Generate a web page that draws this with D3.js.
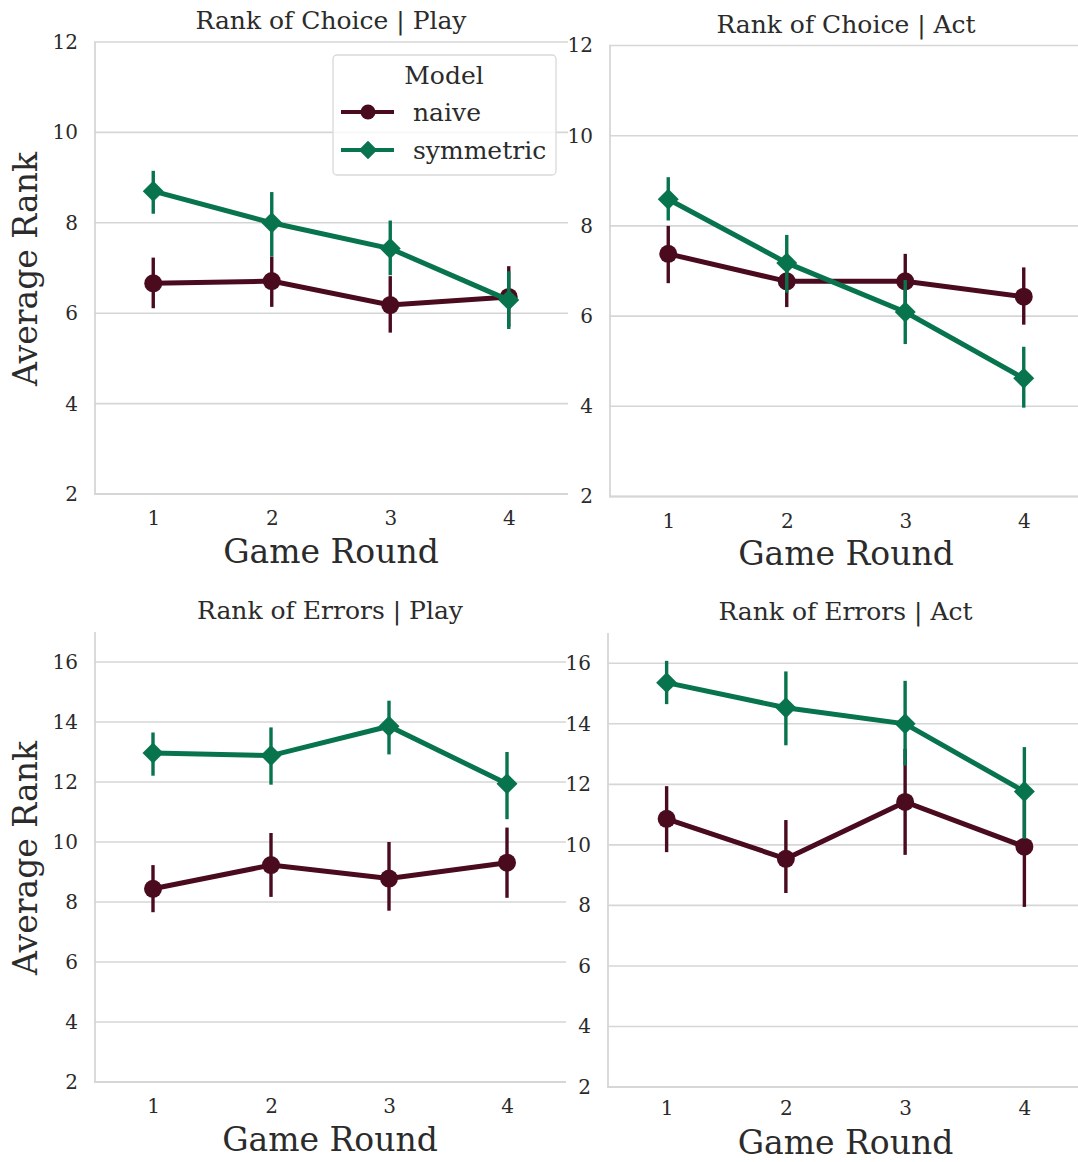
<!DOCTYPE html>
<html>
<head>
<meta charset="utf-8">
<script src="https://cdn.jsdelivr.net/npm/d3@7"></script>
<style>
  body { margin: 0; background: #fff; }
  svg { display: block; font-family: "DejaVu Serif", serif; }
</style>
</head>
<body>
<svg id="chart" width="1078" height="1162"></svg>
<script>
// categories
var rounds = [1, 2, 3, 4];
var models = ["naive", "symmetric"];
var panelTitles = ["Rank of Choice | Play", "Rank of Choice | Act", "Rank of Errors | Play", "Rank of Errors | Act"];
var topTicks = [2, 4, 6, 8, 10, 12];
var bottomTicks = [2, 4, 6, 8, 10, 12, 14, 16];

// Rank of Choice | Play
var choicePlayNaive = [6.66, 6.71, 6.18, 6.36];
var choicePlayNaiveLo = [6.11, 6.14, 5.57, 5.70];
var choicePlayNaiveHi = [7.23, 7.25, 6.82, 7.04];
var choicePlaySym = [8.70, 8.00, 7.43, 6.29];
var choicePlaySymLo = [8.20, 7.25, 6.84, 5.65];
var choicePlaySymHi = [9.15, 8.68, 8.05, 6.93];

// Rank of Choice | Act
var choiceActNaive = [7.38, 6.77, 6.77, 6.43];
var choiceActNaiveLo = [6.73, 6.20, 6.16, 5.81];
var choiceActNaiveHi = [8.00, 7.34, 7.38, 7.08];
var choiceActSym = [8.59, 7.18, 6.09, 4.62];
var choiceActSymLo = [8.12, 6.52, 5.38, 3.97];
var choiceActSymHi = [9.08, 7.80, 6.80, 5.32];

// Rank of Errors | Play
var errorsPlayNaive = [8.44, 9.23, 8.78, 9.31];
var errorsPlayNaiveLo = [7.66, 8.17, 7.71, 8.14];
var errorsPlayNaiveHi = [9.23, 10.30, 10.00, 10.48];
var errorsPlaySym = [12.97, 12.88, 13.86, 11.94];
var errorsPlaySymLo = [12.21, 11.91, 12.92, 10.76];
var errorsPlaySymHi = [13.65, 13.82, 14.71, 13.00];

// Rank of Errors | Act
var errorsActNaive = [10.86, 9.54, 11.42, 9.94];
var errorsActNaiveLo = [9.76, 8.41, 9.67, 7.95];
var errorsActNaiveHi = [11.94, 10.82, 13.17, 11.93];
var errorsActSym = [15.36, 14.53, 14.00, 11.76];
var errorsActSymLo = [14.65, 13.29, 12.62, 10.20];
var errorsActSymHi = [16.08, 15.73, 15.42, 13.23];

var colors = { naive: "#4a0b1f", symmetric: "#07744d" };
var gridColor = "#d6d6d6";
var textColor = "#2b2b2b";

var svg = d3.select("#chart");

// panel boxes
var panels = [
  { left: 94, right: 568, top: 42, bottom: 494, ylim: [2, 12], ticks: topTicks, gridRight: 568, ylabel: true, tickGap: 24,
    series: [[choicePlayNaive, choicePlayNaiveLo, choicePlayNaiveHi], [choicePlaySym, choicePlaySymLo, choicePlaySymHi]] },
  { left: 609, right: 1083, top: 45.5, bottom: 496.5, ylim: [2, 12], ticks: topTicks, gridRight: 1078, ylabel: false, tickGap: 24,
    series: [[choiceActNaive, choiceActNaiveLo, choiceActNaiveHi], [choiceActSym, choiceActSymLo, choiceActSymHi]] },
  { left: 94, right: 566, top: 632, bottom: 1082, ylim: [2, 17], ticks: bottomTicks, gridRight: 566, ylabel: true, tickGap: 24,
    series: [[errorsPlayNaive, errorsPlayNaiveLo, errorsPlayNaiveHi], [errorsPlaySym, errorsPlaySymLo, errorsPlaySymHi]] },
  { left: 607, right: 1084, top: 633, bottom: 1087, ylim: [2, 17], ticks: bottomTicks, gridRight: 1078, ylabel: false, tickGap: 21,
    series: [[errorsActNaive, errorsActNaiveLo, errorsActNaiveHi], [errorsActSym, errorsActSymLo, errorsActSymHi]] }
];

var diamond = d3.symbol().type(d3.symbolDiamond2).size(280);

panels.forEach(function(p, pi) {
  var g = svg.append("g");

  var x = d3.scalePoint().domain(rounds).range([p.left, p.right]).padding(0.5);
  var y = d3.scaleLinear().domain(p.ylim).range([p.bottom, p.top]);

  // grid
  g.selectAll(".grid")
    .data(p.ticks)
    .enter()
    .append("line")
    .attr("x1", p.left).attr("x2", p.gridRight)
    .attr("y1", function(d) { return y(d); })
    .attr("y2", function(d) { return y(d); })
    .attr("stroke", gridColor)
    .attr("stroke-width", 1.6);

  // spines
  g.append("line")
    .attr("x1", p.left + 1).attr("x2", p.left + 1)
    .attr("y1", p.top).attr("y2", p.bottom)
    .attr("stroke", gridColor).attr("stroke-width", 1.8);
  g.append("line")
    .attr("x1", p.left).attr("x2", p.gridRight)
    .attr("y1", p.bottom).attr("y2", p.bottom)
    .attr("stroke", gridColor).attr("stroke-width", 1.8);

  // y axis labels
  var yAxis = d3.axisLeft(y).tickValues(p.ticks).tickSize(0).tickPadding(16);
  var ya = g.append("g").attr("transform", "translate(" + p.left + ",0)").call(yAxis);
  ya.select(".domain").remove();
  ya.selectAll("text")
    .attr("fill", textColor)
    .style("font-family", "DejaVu Serif")
    .style("font-size", "20px");

  // x axis labels
  var xAxis = d3.axisBottom(x).tickSize(0).tickPadding(0);
  var xa = g.append("g").attr("transform", "translate(0," + p.bottom + ")").call(xAxis);
  xa.select(".domain").remove();
  xa.selectAll("text")
    .attr("y", p.tickGap).attr("dy", "0.35em")
    .attr("fill", textColor)
    .style("font-family", "DejaVu Serif")
    .style("font-size", "20px");

  // title
  g.append("text")
    .attr("x", (p.left + p.right) / 2)
    .attr("y", p.top - 13)
    .attr("text-anchor", "middle")
    .attr("fill", textColor)
    .style("font-size", "25px")
    .text(panelTitles[pi]);

  // x label (kept inside the bottom edge)
  g.append("text")
    .attr("x", (p.left + p.right) / 2)
    .attr("y", Math.min(p.bottom + 57, 1142))
    .attr("dy", "0.35em")
    .attr("text-anchor", "middle")
    .attr("fill", textColor)
    .style("font-size", "33px")
    .text("Game Round");

  if (p.ylabel) {
    g.append("text")
      .attr("transform", "translate(25," + ((p.top + p.bottom) / 2 + 1) + ") rotate(-90)")
      .attr("dy", "0.35em")
      .attr("text-anchor", "middle")
      .attr("fill", textColor)
      .style("font-size", "33px")
      .text("Average Rank");
  }

  // series
  var line = d3.line()
    .x(function(d, i) { return x(rounds[i]); })
    .y(function(d) { return y(d); });

  p.series.forEach(function(s, si) {
    var col = colors[models[si]];
    var mean = s[0], lo = s[1], hi = s[2];
    var sg = g.append("g");

    sg.selectAll(".err")
      .data(rounds)
      .enter()
      .append("line")
      .attr("x1", function(d) { return x(d); })
      .attr("x2", function(d) { return x(d); })
      .attr("y1", function(d, i) { return y(lo[i]); })
      .attr("y2", function(d, i) { return y(hi[i]); })
      .attr("stroke", col)
      .attr("stroke-width", 3.4);

    sg.append("path")
      .datum(mean)
      .attr("d", line)
      .attr("fill", "none")
      .attr("stroke", col)
      .attr("stroke-width", 5);

    if (models[si] === "naive") {
      sg.selectAll(".pt")
        .data(mean)
        .enter()
        .append("circle")
        .attr("cx", function(d, i) { return x(rounds[i]); })
        .attr("cy", function(d) { return y(d); })
        .attr("r", 9)
        .attr("fill", col);
    } else {
      sg.selectAll(".pt")
        .data(mean)
        .enter()
        .append("path")
        .attr("d", diamond)
        .attr("transform", function(d, i) { return "translate(" + x(rounds[i]) + "," + y(d) + ")"; })
        .attr("fill", col);
    }
  });

  // legend in first panel
  if (pi === 0) {
    var lg = g.append("g");
    lg.append("rect")
      .attr("x", 333).attr("y", 55)
      .attr("width", 223).attr("height", 120)
      .attr("rx", 4)
      .attr("fill", "#fff").attr("fill-opacity", 0.8)
      .attr("stroke", "#d9d9d9").attr("stroke-width", 1.3);
    lg.append("text")
      .attr("x", 444).attr("y", 75).attr("dy", "0.35em")
      .attr("text-anchor", "middle")
      .attr("fill", textColor)
      .style("font-size", "25px")
      .text("Model");
    var entryY = d3.scalePoint().domain(models).range([112, 150]);
    models.forEach(function(m) {
      var yy = entryY(m);
      lg.append("line")
        .attr("x1", 341).attr("x2", 394)
        .attr("y1", yy).attr("y2", yy)
        .attr("stroke", colors[m]).attr("stroke-width", 4);
      if (m === "naive") {
        lg.append("circle").attr("cx", 368).attr("cy", yy).attr("r", 7.5).attr("fill", colors[m]);
      } else {
        lg.append("path").attr("d", d3.symbol().type(d3.symbolDiamond2).size(220))
          .attr("transform", "translate(368," + yy + ")").attr("fill", colors[m]);
      }
      lg.append("text")
        .attr("x", 413).attr("y", yy).attr("dy", "0.35em")
        .attr("fill", textColor)
        .style("font-size", "25px")
        .text(m);
    });
  }
});
</script>
</body>
</html>
